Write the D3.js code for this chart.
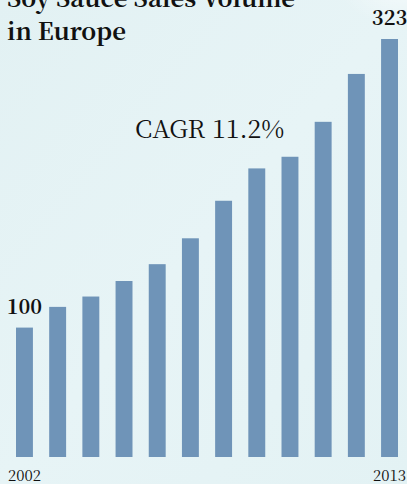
<!DOCTYPE html>
<html><head><meta charset="utf-8">
<script src="https://cdn.jsdelivr.net/npm/d3@7"></script>
<style>html,body{margin:0;padding:0;background:#e4f2f4;overflow:hidden}</style>
</head><body>
<script>
const years = ["2002","2003","2004","2005","2006","2007","2008","2009","2010","2011","2012","2013"];
const values = [100,116,124,136,149,169,198,223,232,259,296,323];
const tickLabels = ["2002","2013"];
const titleLines = ["Soy Sauce Sales Volume","in Europe"];
const cagrLabel = "CAGR 11.2%";

const W = 407, H = 484;
const svg = d3.select("body").append("svg").attr("width", W).attr("height", H);
const defs = svg.append("defs");
const lg = defs.append("linearGradient").attr("id","bg").attr("x1","0").attr("y1","0").attr("x2","1").attr("y2","1");
lg.append("stop").attr("offset","0").attr("stop-color","#e2f1f3");
lg.append("stop").attr("offset","0.5").attr("stop-color","#e7f4f6");
lg.append("stop").attr("offset","1").attr("stop-color","#e3f2f4");
svg.append("rect").attr("width",W).attr("height",H).attr("fill","url(#bg)");
const rg = defs.append("radialGradient").attr("id","glow");
rg.append("stop").attr("offset","0").attr("stop-color","#ffffff").attr("stop-opacity",0.5);
rg.append("stop").attr("offset","1").attr("stop-color","#ffffff").attr("stop-opacity",0);
svg.append("ellipse").attr("cx",400).attr("cy",-10).attr("rx",60).attr("ry",35).attr("fill","url(#glow)");

const serif = '"Noto Serif CJK SC", "Liberation Serif", serif';
const x = d3.scaleBand().domain(years).range([16, 398]).paddingInner(0.49).paddingOuter(0);
const y = d3.scaleLinear().domain([0, 323]).range([457, 39]);

svg.append("g").selectAll("rect").data(values).join("rect")
  .attr("x", (d,i) => x(years[i]))
  .attr("width", x.bandwidth())
  .attr("y", d => y(d))
  .attr("height", d => y(0) - y(d))
  .attr("fill", "#6f94b8");

// value labels on first and last bars
[0, values.length-1].forEach(i => {
  svg.append("text")
    .attr("x", x(years[i]) + x.bandwidth()/2)
    .attr("y", y(values[i]) - 14)
    .attr("text-anchor","middle")
    .style("font-family", serif).style("font-weight","bold").style("font-size","20px")
    .attr("fill","#111").text(values[i]);
});

// tick labels
const xAxis = d3.axisBottom(x).tickValues(tickLabels).tickSize(0).tickPadding(0);
const ax = svg.append("g").attr("transform","translate(0,481)").call(xAxis);
ax.select(".domain").remove();
ax.selectAll("text").style("font-family", serif).style("font-size","15px").attr("fill","#111").attr("dy","0");

// title
svg.append("text").style("font-family", serif).style("font-weight","bold").style("font-size","24px").attr("fill","#111")
  .selectAll("tspan").data(titleLines).join("tspan")
  .attr("x", 7).attr("y", (d,i) => 7 + i*33).text(d => d);

svg.append("text").attr("x", 135).attr("y", 138)
  .style("font-family", serif).style("font-size","25px").attr("fill","#111").text(cagrLabel);
</script>
</body></html>
